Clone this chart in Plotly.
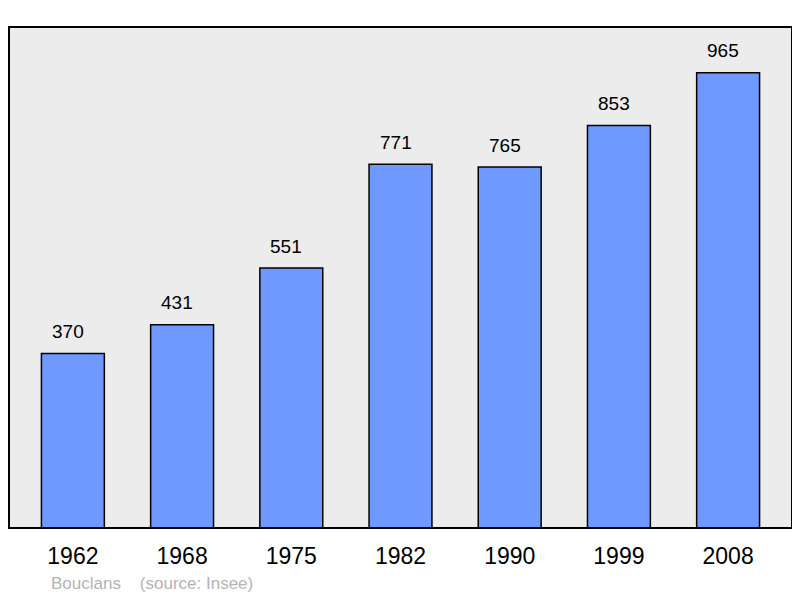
import plotly.graph_objects as go

years = ["1962", "1968", "1975", "1982", "1990", "1999", "2008"]
population = [370, 431, 551, 771, 765, 853, 965]
town = "Bouclans"
source = "(source: Insee)"

# page has an 8px body margin; figure is sized to fit the 800x598 window
W, H = 792, 590
L, R, T, B = 1, 8, 19, 70
PW, PH = W - L - R, H - T - B
FONT = "Liberation Sans, Arial, sans-serif"

fig = go.Figure()
fig.add_trace(go.Bar(
    x=list(range(len(years))), y=population,
    width=0.576,
    marker=dict(color="#7099ff", line=dict(color="#000000", width=1.5)),
    hoverinfo="skip",
))

for i, v in enumerate(population):
    fig.add_annotation(x=i, y=v, text=str(v), showarrow=False,
                       yanchor="middle", yshift=22, xshift=-5,
                       font=dict(size=19, color="#000000", family=FONT))

# footer (page coords x=49, y=583 -> figure coords x=41, y=575)
fig.add_annotation(xref="paper", yref="paper",
                   x=(41 - L) / PW, y=-(575 - (H - B)) / PH,
                   xanchor="left", yanchor="middle", showarrow=False,
                   text=town + "&nbsp;&nbsp;&nbsp;&nbsp;" + source,
                   font=dict(size=17, color="#b4b4b4", family=FONT))

fig.add_shape(type="rect", xref="paper", yref="paper", x0=0, x1=1, y0=0, y1=1,
              line=dict(color="#000000", width=2), layer="above")

fig.update_layout(
    width=W, height=H,
    margin=dict(l=L, r=R, t=T, b=B, autoexpand=False),
    paper_bgcolor="#ffffff", plot_bgcolor="#ececec",
    showlegend=False,
    xaxis=dict(range=[-0.585, 6.585], tickmode="array",
               tickvals=list(range(len(years))), ticktext=years,
               showgrid=False, zeroline=False, showline=False, ticks="",
               ticklabelstandoff=12,
               tickfont=dict(size=23, color="#000000", family=FONT),
               fixedrange=True),
    yaxis=dict(range=[0, 1062], showgrid=False, zeroline=False,
               showticklabels=False, ticks="", fixedrange=True),
)

fig.write_html("out.html", config={"displayModeBar": False})
